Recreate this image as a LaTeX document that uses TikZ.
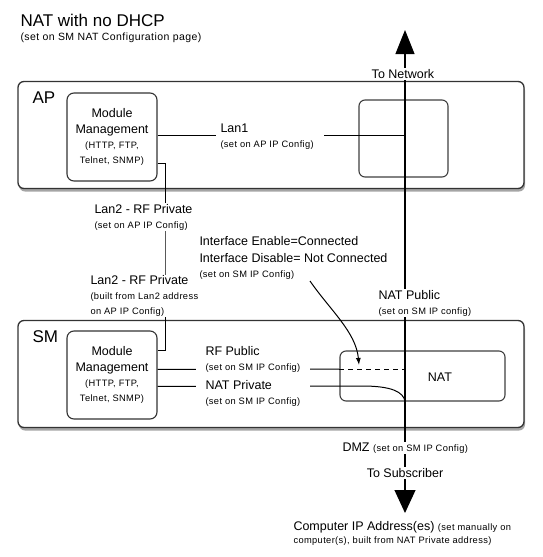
\documentclass[tikz,border=0pt]{standalone}
\usepackage{fontspec}
\setmainfont{Liberation Sans}
\newfontfamily\notefont[LetterSpace=4]{Liberation Sans}
\usetikzlibrary{arrows.meta,shadows}
\newcommand{\notesz}{\notefont\fontsize{9.3}{14}\selectfont}
\newcommand{\lblsz}{\fontsize{12.5}{15}\selectfont}
\newcommand{\bigsz}{\fontsize{17}{20}\selectfont}

\begin{document}
\begin{tikzpicture}[x=1pt,y=-1pt,line width=1pt,
  unitbox/.style={draw=black!80,line width=1.3pt,rounded corners=6pt,fill=white,
    drop shadow={shadow xshift=1pt,shadow yshift=-3pt,opacity=0.5,fill=black!70},
    minimum width=506,minimum height=107,inner sep=0pt},
  modbox/.style={draw=black!80,line width=1.1pt,rounded corners=7pt,fill=white,
    minimum width=90,minimum height=88,inner sep=0pt,align=center,font=\lblsz},
  portbox/.style={draw=black!75,line width=1.1pt,rounded corners=6pt,inner sep=0pt},
  cfglabel/.style={fill=white,align=left,inner ysep=1pt,inner xsep=3pt,font=\lblsz}]
\useasboundingbox (0,0) rectangle (542,557);

\node[anchor=base west,inner sep=2pt,font=\bigsz] (ttl) at (18,26) {NAT with no DHCP};
\node[anchor=base west,inner sep=2pt] (subttl) at (18,40)
  {\notefont\fontsize{10.5}{12}\selectfont (set on SM NAT Configuration page)};

% the two units
\node[unitbox] (ap) at (271,135) {};
\node[unitbox] (sm) at (271,374) {};
\node[anchor=west,inner sep=2pt,font=\bigsz] (aplbl) at (30,98) {AP};
\node[anchor=west,inner sep=2pt,font=\bigsz] (smlbl) at (30,337) {SM};

\node[modbox] (apmod) at (112,137) {Module\\[1pt]Management\\\notesz (HTTP, FTP,\\\notesz Telnet, SNMP)};
\node[modbox] (smmod) at (112,375) {Module\\[1pt]Management\\\notesz (HTTP, FTP,\\\notesz Telnet, SNMP)};
\node[portbox,minimum width=89,minimum height=77] (aprtr) at (403.5,138.5) {};
\node[portbox,minimum width=165,minimum height=50] (natbox) at (422.5,376) {};
\node[inner sep=2pt,font=\lblsz] (natlbl) at (440,377) {NAT};

\coordinate (nettip) at (405,30);
\coordinate (subtip) at (405,513);
\coordinate (lanone) at (405,135);
\coordinate (lantwo) at (165,256);
\coordinate (rfend) at (405,369);
\coordinate (natbend) at (362,386);
\coordinate (natend) at (405,401);
\coordinate (ifstart) at (310,281);
\coordinate (iftip) at (359,365);

% wires
\draw[line width=1.1pt,{Triangle[length=24pt,width=19pt]}-{Triangle[length=23pt,width=21pt]}]
  (nettip) -- (subtip);
\draw (apmod.east |- lanone) -- (lanone);
\draw ([yshift=18pt]apmod.south east) -| (lantwo) |- ([yshift=-20pt]smmod.north east);
\draw ([yshift=-39pt]smmod.north east) -- (natbox.west |- rfend);
\draw[dash pattern=on 5pt off 4pt] (natbox.west |- rfend) -- (rfend);
\draw ([yshift=-56pt]smmod.north east) -- (natbend) .. controls +(30,0) and +(-2,-9) .. (natend);
\draw[-{Latex[length=7pt,width=5pt]}] (ifstart) .. controls (330,310) and (356,332) .. (iftip);

% labels
\node[cfglabel] (tonet) at (403,74) {To Network};
\node[cfglabel,anchor=west,inner xsep=5pt] (lan1) at (215,137) {Lan1\\\notesz (set on AP IP Config)\hspace*{5pt}};
\node[cfglabel,anchor=west] (lan2a) at (91,217) {Lan2 - RF Private\\\notesz (set on AP IP Config)};
\node[cfglabel,anchor=west] (lan2b) at (87,296) {Lan2 - RF Private\\\notesz (built from Lan2 address\\\notesz on AP IP Config)};
\node[cfglabel,anchor=west] (iface) at (196,258)
  {Interface Enable=Connected\\[2pt]Interface Disable= Not Connected\\\notesz (set on SM IP Config)};
\node[cfglabel,anchor=west] (natpub) at (375,303) {NAT Public\\\notesz (set on SM IP config)};
\node[cfglabel,anchor=west,inner xsep=10pt] (rfpub) at (195,359) {RF Public\\\notesz (set on SM IP Config)};
\node[cfglabel,anchor=west,inner xsep=10pt] (natpriv) at (195,393) {NAT Private\\\notesz (set on SM IP Config)};
\node[cfglabel,anchor=west] (dmz) at (339,448) {DMZ {\notesz (set on SM IP Config)}};
\node[cfglabel] (tosub) at (405,473) {To Subscriber};
\node[cfglabel,anchor=west] (comp) at (290,533)
  {Computer IP Address(es) {\notesz (set manually on}\\[-2pt]\notesz computer(s), built from NAT Private address)};
\end{tikzpicture}
\end{document}
